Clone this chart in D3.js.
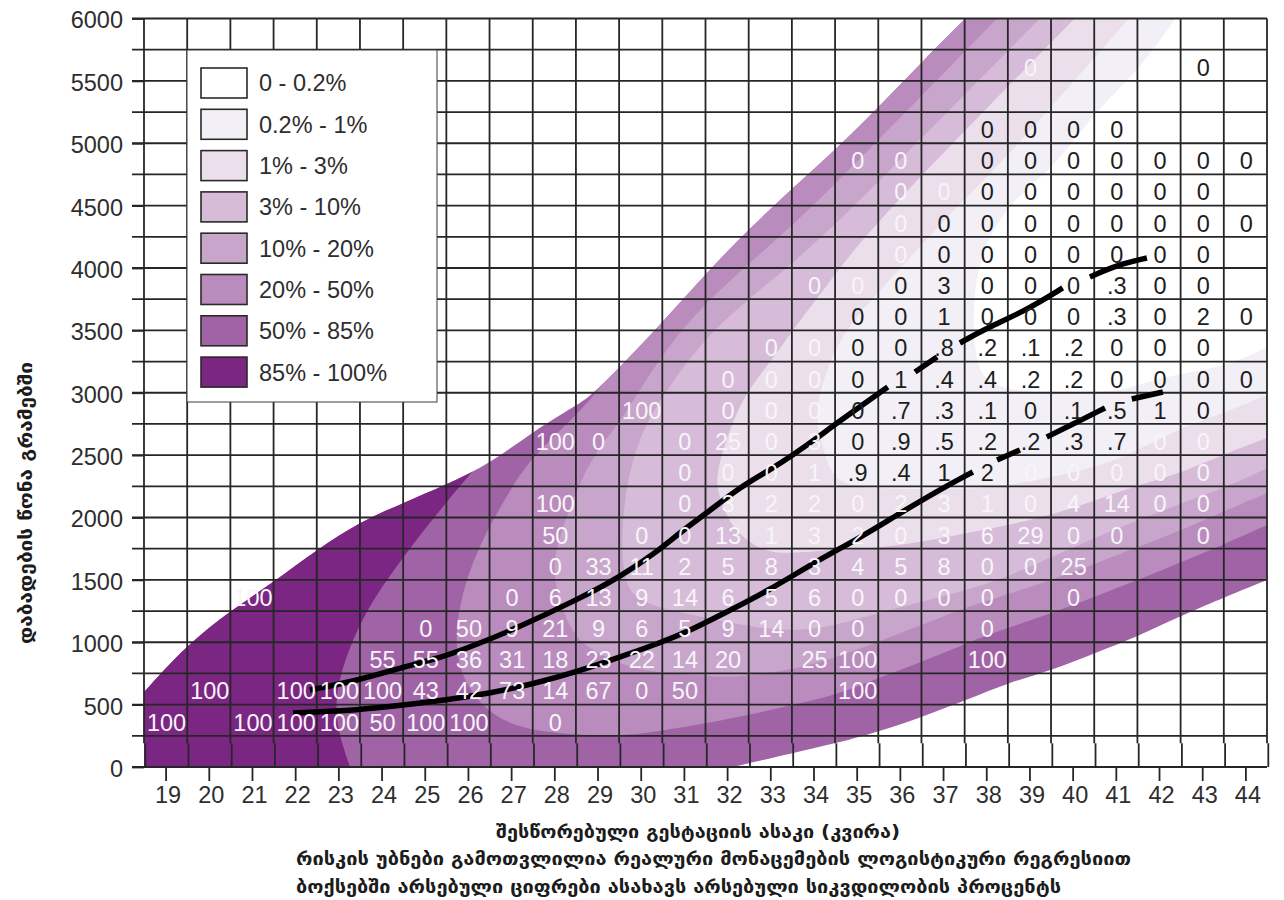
<!DOCTYPE html>
<html>
<head>
<meta charset="utf-8">
<style>
  html, body { margin: 0; background: #fff; }
  svg { display: block; }
  text { font-family: "Liberation Sans", Arial, sans-serif; }
  .geo { font-family: "DejaVu Sans", sans-serif; font-weight: bold; fill: #1c1c1c; }
</style>
</head>
<body>
<svg id="chart"></svg>
<script src="https://d3js.org/d3.v7.min.js"></script>
<script>
// legend
const legendLabels = ["0 - 0.2%", "0.2% - 1%", "1% - 3%", "3% - 10%", "10% - 20%", "20% - 50%", "50% - 85%", "85% - 100%"];
const bandColors = ["#ffffff", "#f2f0f6", "#ebdfec", "#d6bcd9", "#c8a5cb", "#b98cbd", "#a064a6", "#7b2682"];

const weeks = d3.range(19, 45);
const gramTicks = d3.range(0, 6001, 250);

// risk band outlines, [week, grams]
const outerTop = [[18.5,601],[19.49,978],[20.47,1245],[21.51,1485],[22.5,1740],[23.5,1966],[24.5,2116],[25.49,2261],[26.53,2437],[27.5,2688],[28.52,2902],[28.82,2966],[29.52,3206],[30.49,3559],[31.49,3950],[32.53,4320],[33.52,4641],[34.5,4946],[35.51,5291],[36.51,5651],[37.53,6004]];
const outerBottom = [[44.5,1499],[42.53,1218],[41.49,1042],[40.51,914],[39.54,778],[38.55,681],[37.55,537],[36.51,401],[35.49,281],[34.55,192],[33.52,112],[32.13,0]];
const darkEdge = [[23.27,0],[22.9,377],[22.99,721],[23.57,1234],[24.5,1683],[25.35,2060],[26.05,2349],[26.74,2621]];
const edge50 = [[44.5,1940],[43.57,1796],[42.53,1643],[41.51,1499],[40.51,1363],[39.52,1234],[38.55,1122],[37.55,994],[36.51,842],[35.49,713],[34.54,577],[33.52,497],[32.3,401],[30.61,297],[29.52,240],[27.67,273],[26.67,377],[25.98,617],[25.65,962],[25.88,1443],[26.35,1844],[27.02,2245],[27.5,2501],[28.99,2966],[29.98,3503],[31.37,4104],[33.45,4786],[37.53,6068]];
const edge20 = [[44.5,2196],[43.57,2060],[42.53,1900],[41.51,1764],[40.56,1635],[39.52,1499],[38.31,1363],[37.55,1283],[36.51,1138],[35.49,1002],[34.54,882],[33.52,778],[32.06,713],[31.53,737],[30.44,753],[29.68,802],[28.66,962],[28.29,1154],[27.94,1523],[28.06,1820],[28.82,2485],[29.47,2725],[30.49,3319],[31.49,3719],[32.53,4040],[33.52,4345],[34.54,4681],[38.7,6160]];
const edge10 = [[44.5,2397],[43.57,2245],[42.53,2116],[41.51,1980],[40.56,1844],[39.52,1683],[38.31,1499],[37.55,1419],[36.51,1323],[35.49,1234],[34.54,1138],[33.52,1082],[32.3,1138],[31.44,1202],[30.61,1259],[29.91,1339],[29.56,1499],[29.56,2084],[29.91,2621],[30.51,2982],[31.49,3447],[32.53,3760],[33.52,4040],[34.54,4361],[35.47,4681],[39.7,6160]];
const edge3 = [[44.5,2637],[43.57,2517],[42.53,2357],[41.51,2261],[40.56,2140],[39.52,2020],[38.31,1924],[37.55,1876],[36.51,1804],[35.49,1756],[34.54,1740],[33.52,1715],[32.99,1715],[32.53,1796],[32.06,1940],[31.76,2220],[31.76,2381],[32.13,2782],[32.53,3046],[33.04,3263],[33.52,3503],[34.54,3968],[35.54,4409],[40.5,6160]];
const edge1 = [[44.5,2982],[43.57,2846],[42.53,2725],[41.39,2517],[40.56,2405],[39.52,2325],[38.31,2245],[37.39,2228],[36,2228],[34.54,2245],[34.31,2461],[34.08,2701],[34.08,2966],[34.61,3479],[35.77,3904],[37.16,4441],[38.55,4906],[41.7,6160]];
const edge02 = [[44.5,3367],[43.57,3206],[42.02,3126],[41.25,3022],[40.47,2998],[38.94,2998],[38.08,3062],[37.69,3238],[37.69,4040],[38.55,4545],[39.54,4786],[40.54,5267],[41.56,5587],[42.7,6160]];

// the two thick curves, broken where they run through the numbers
const upperCurve = [
  [[22.34,617],[23.5,697],[24.5,802],[25.35,874],[26.05,962],[27.04,1098],[28.52,1339],[29.52,1523],[30.44,1740],[30.98,1900],[31.53,2036],[32.3,2245],[32.99,2381],[33.52,2501],[34.08,2637],[34.54,2757],[35.72,3046]],
  [[36.35,3166],[36.86,3287]],
  [[37.39,3399],[38.01,3519],[38.94,3663],[39.77,3840]],
  [[40.4,3928],[41.02,4024],[41.72,4080]]
];
const lowerCurve = [
  [[21.95,433],[23.5,457],[24.5,497],[25.49,537],[26.53,593],[27.5,665],[28.52,762],[29.52,882],[30.44,994],[31.07,1082],[31.76,1202],[32.99,1419],[33.99,1635],[35.07,1836],[35.93,2020],[36.99,2236],[37.69,2365]],
  [[38.25,2461],[38.78,2541]],
  [[39.4,2645],[39.87,2725],[40.75,2878]],
  [[41.37,2950],[42.09,3006]]
];

// cell numbers: row centre in grams, then [week, text]
const whiteCells = [
  [375, [[19,"100"],[21,"100"],[22,"100"],[23,"100"],[24,"50"],[25,"100"],[26,"100"],[28,"0"]]],
  [625, [[20,"100"],[22,"100"],[23,"100"],[24,"100"],[25,"43"],[26,"42"],[27,"73"],[28,"14"],[29,"67"],[30,"0"],[31,"50"],[35,"100"]]],
  [875, [[24,"55"],[25,"55"],[26,"36"],[27,"31"],[28,"18"],[29,"23"],[30,"22"],[31,"14"],[32,"20"],[34,"25"],[35,"100"],[38,"100"]]],
  [1125, [[25,"0"],[26,"50"],[27,"9"],[28,"21"],[29,"9"],[30,"6"],[31,"5"],[32,"9"],[33,"14"],[34,"0"],[35,"0"],[38,"0"]]],
  [1375, [[21,"100"],[27,"0"],[28,"6"],[29,"13"],[30,"9"],[31,"14"],[32,"6"],[33,"5"],[34,"6"],[35,"0"],[36,"0"],[37,"0"],[38,"0"],[40,"0"]]],
  [1625, [[28,"0"],[29,"33"],[30,"11"],[31,"2"],[32,"5"],[33,"8"],[34,"3"],[35,"4"],[36,"5"],[37,"8"],[38,"0"],[39,"0"],[40,"25"]]],
  [1875, [[28,"50"],[30,"0"],[31,"0"],[32,"13"],[33,"1"],[34,"3"],[35,"2"],[36,"0"],[37,"3"],[38,"6"],[39,"29"],[40,"0"],[41,"0"],[43,"0"]]],
  [2125, [[28,"100"],[31,"0"],[32,"3"],[33,"2"],[34,"2"],[35,"0"],[36,"2"],[37,"3"],[38,"1"],[39,"0"],[40,"4"],[41,"14"],[42,"0"],[43,"0"]]],
  [2375, [[31,"0"],[32,"0"],[33,"0"],[34,"1"],[39,"0"],[40,"0"],[41,"0"],[42,"0"],[43,"0"]]],
  [2625, [[28,"100"],[29,"0"],[31,"0"],[32,"25"],[33,"0"],[34,"3"],[42,"0"],[43,"0"]]],
  [2875, [[30,"100"],[32,"0"],[33,"0"],[34,"0"]]],
  [3125, [[32,"0"],[33,"0"],[34,"0"]]],
  [3375, [[33,"0"],[34,"0"]]],
  [3875, [[34,"0"],[35,"0"]]],
  [4125, [[36,"0"]]],
  [4375, [[36,"0"]]],
  [4625, [[36,"0"],[37,"0"]]],
  [4875, [[35,"0"],[36,"0"]]],
  [5625, [[39,"0"]]]
];
const blackCells = [
  [2375, [[35,".9"],[36,".4"],[37,"1"],[38,"2"]]],
  [2625, [[35,"0"],[36,".9"],[37,".5"],[38,".2"],[39,".2"],[40,".3"],[41,".7"]]],
  [2875, [[35,"0"],[36,".7"],[37,".3"],[38,".1"],[39,"0"],[40,".1"],[41,".5"],[42,"1"],[43,"0"]]],
  [3125, [[35,"0"],[36,"1"],[37,".4"],[38,".4"],[39,".2"],[40,".2"],[41,"0"],[42,"0"],[43,"0"],[44,"0"]]],
  [3375, [[35,"0"],[36,"0"],[37,".8"],[38,".2"],[39,".1"],[40,".2"],[41,"0"],[42,"0"],[43,"0"]]],
  [3625, [[35,"0"],[36,"0"],[37,"1"],[38,"0"],[39,"0"],[40,"0"],[41,".3"],[42,"0"],[43,"2"],[44,"0"]]],
  [3875, [[36,"0"],[37,"3"],[38,"0"],[39,"0"],[40,"0"],[41,".3"],[42,"0"],[43,"0"]]],
  [4125, [[37,"0"],[38,"0"],[39,"0"],[40,"0"],[41,"0"],[42,"0"],[43,"0"]]],
  [4375, [[37,"0"],[38,"0"],[39,"0"],[40,"0"],[41,"0"],[42,"0"],[43,"0"],[44,"0"]]],
  [4625, [[38,"0"],[39,"0"],[40,"0"],[41,"0"],[42,"0"],[43,"0"]]],
  [4875, [[38,"0"],[39,"0"],[40,"0"],[41,"0"],[42,"0"],[43,"0"],[44,"0"]]],
  [5125, [[38,"0"],[39,"0"],[40,"0"],[41,"0"]]],
  [5625, [[43,"0"]]]
];

const xTitle = "შესწორებული გესტაციის ასაკი (კვირა)";
const noteLine1 = "რისკის უბნები გამოთვლილია რეალური მონაცემების ლოგისტიკური რეგრესიით";
const noteLine2 = "ბოქსებში არსებული ციფრები ასახავს არსებული სიკვდილობის პროცენტს";
const yTitle = "დაბადების წონა გრამებში";

const width = 1284, height = 900;
const svg = d3.select("#chart").attr("width", width).attr("height", height);

const x = d3.scaleLinear().domain([18.5, 44.5]).range([144, 1267]);
const y = d3.scaleLinear().domain([0, 6000]).range([767, 18.5]);

const pt = d => [x(d[0]), y(d[1])];
const smooth = d3.line().x(d => x(d[0])).y(d => y(d[1])).curve(d3.curveBasis);

const outerPath = smooth(outerTop) + "L" + pt([44.5, 6004]) + "L" + smooth(outerBottom).slice(1) + "L" + pt([18.5, 0]) + "Z";
// a band runs from the right edge round to the top, then closes past the top right corner
const bandPath = pts => smooth(pts) + "L" + pt([46, pts[pts.length - 1][1]]) + "L" + pt([46, pts[0][1]]) + "Z";

const defs = svg.append("defs");
defs.append("clipPath").attr("id", "plot").append("rect")
  .attr("x", x(18.5)).attr("y", y(6000))
  .attr("width", x(44.5) - x(18.5)).attr("height", y(0) - y(6000));
defs.append("clipPath").attr("id", "outer").attr("clip-path", "url(#plot)").append("path").attr("d", outerPath);

const bands = svg.append("g").attr("clip-path", "url(#outer)");
bands.append("rect")
  .attr("x", x(18.5)).attr("y", y(6000))
  .attr("width", x(44.5) - x(18.5)).attr("height", y(0) - y(6000))
  .attr("fill", bandColors[6]);
bands.append("path")
  .attr("d", smooth(darkEdge) + "L" + pt([18.5, 3000]) + "L" + pt([18.5, 0]) + "Z")
  .attr("fill", bandColors[7]);
[edge50, edge20, edge10, edge3, edge1, edge02].forEach((pts, i) => {
  bands.append("path").attr("d", bandPath(pts)).attr("fill", bandColors[5 - i]);
});

// grid
const gridColor = "#262626";
const grid = svg.append("g").attr("stroke", gridColor).attr("stroke-width", 1.8);
grid.selectAll("line.h").data(gramTicks).enter().append("line")
  .attr("x1", 132).attr("x2", x(44.5))
  .attr("y1", d => y(d)).attr("y2", d => y(d));
const cellEdges = weeks.map(d => d - 0.5).concat([44.5]);
grid.selectAll("line.v").data(cellEdges).enter().append("line")
  .attr("x1", d => x(d)).attr("x2", d => x(d))
  .attr("y1", y(6000)).attr("y2", y(190));
// bottom row sits a touch to the right in the original
grid.selectAll("line.b").data(cellEdges).enter().append("line")
  .attr("x1", d => x(d) + 1.3).attr("x2", d => x(d) + 1.3)
  .attr("y1", y(190)).attr("y2", y(0));

// axes
const xAxis = d3.axisBottom(x).tickValues(weeks).tickSize(14).tickPadding(5).tickFormat(d3.format("d"));
const yAxis = d3.axisLeft(y).tickValues(d3.range(0, 6001, 500)).tickSize(12).tickPadding(9).tickFormat(d3.format("d"));
const gx = svg.append("g").attr("transform", "translate(0," + y(0) + ")").call(xAxis);
const gy = svg.append("g").attr("transform", "translate(144,0)").call(yAxis);
[gx, gy].forEach(g => {
  g.select(".domain").remove();
  g.selectAll("line").attr("stroke", gridColor).attr("stroke-width", 1.8);
  g.selectAll("text").attr("fill", "#2e2e2e").style("font-size", "23.5px").style("font-family", "'Liberation Sans', Arial, sans-serif");
});
gx.selectAll("text").attr("dx", 2);
gy.selectAll("text").attr("dy", "0.4em");

// thick curves
svg.append("g").selectAll("path").data(upperCurve.concat(lowerCurve)).enter().append("path")
  .attr("d", smooth).attr("fill", "none").attr("stroke", "#000").attr("stroke-width", 5.5);

// cell numbers
function drawCells(rows, color) {
  const g = svg.append("g").attr("fill", color).attr("text-anchor", "middle").style("font-size", "23.5px");
  rows.forEach(row => {
    g.selectAll(null).data(row[1]).enter().append("text")
      .attr("x", d => x(d[0]) + 1)
      .attr("y", y(row[0]) + 2)
      .attr("dy", "0.36em")
      .text(d => d[1]);
  });
}
drawCells(whiteCells, "#f8f5f9");
drawCells(blackCells, "#1d1d1d");

// legend box
const legend = svg.append("g");
legend.append("rect").attr("x", 187).attr("y", 50).attr("width", 250).attr("height", 352)
  .attr("fill", "#fff").attr("stroke", "#3a3a3a").attr("stroke-width", 1);
const entry = legend.selectAll("g.entry").data(legendLabels).enter().append("g")
  .attr("transform", (d, i) => "translate(201," + (68 + i * 41.3) + ")");
entry.append("rect").attr("width", 46).attr("height", 30)
  .attr("fill", (d, i) => bandColors[i]).attr("stroke", "#2a2a2a").attr("stroke-width", 1.6);
entry.append("text").attr("x", 58).attr("y", 15).attr("dy", "0.36em")
  .attr("fill", "#2e2e2e").style("font-size", "23.5px").text(d => d);

// titles
svg.append("text").attr("class", "geo").attr("x", 698).attr("y", 838).attr("text-anchor", "middle")
  .style("font-size", "17px").attr("textLength", 404).attr("lengthAdjust", "spacingAndGlyphs").text(xTitle);
svg.append("text").attr("class", "geo").attr("x", 296).attr("y", 865)
  .style("font-size", "17px").attr("textLength", 835).attr("lengthAdjust", "spacingAndGlyphs").text(noteLine1);
svg.append("text").attr("class", "geo").attr("x", 296).attr("y", 893)
  .style("font-size", "17px").attr("textLength", 765).attr("lengthAdjust", "spacingAndGlyphs").text(noteLine2);
svg.append("text").attr("class", "geo").attr("transform", "translate(32,503) rotate(-90)").attr("text-anchor", "middle")
  .style("font-size", "17px").attr("textLength", 282).attr("lengthAdjust", "spacingAndGlyphs").text(yTitle);
</script>
</body>
</html>
